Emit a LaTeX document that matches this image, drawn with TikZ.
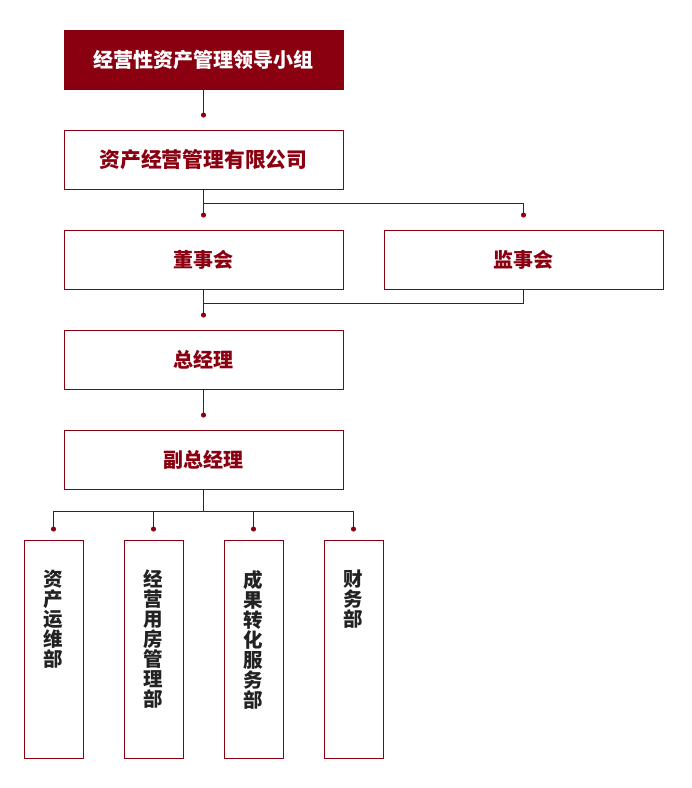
\documentclass[tikz,border=0pt]{standalone}
\usepackage{fontspec}
\setmainfont{Noto Sans CJK SC}
\usetikzlibrary{arrows.meta}
\definecolor{darkred}{HTML}{8A0010}
\definecolor{darkgray}{HTML}{222222}
\tikzset{
  box/.style={draw=darkred, line width=0.9pt, minimum width=279pt, minimum height=59pt,
    text=darkred, font=\bfseries\fontsize{20}{22}\selectfont},
  leadbox/.style={box, fill=darkred, text=white},
  dept/.style={draw=darkred, line width=0.9pt, minimum width=59pt, minimum height=218pt},
  deptlabel/.style={anchor=north, yshift=-27pt, align=center, text=darkgray,
    font=\bfseries\fontsize{19.5}{20}\selectfont},
  link/.style={draw=darkred, line width=0.9pt, -{Circle[length=5pt]}},
  bus/.style={draw=darkred, line width=0.9pt},
}
\begin{document}
\begin{tikzpicture}[node distance=100pt]
            \useasboundingbox (0pt,0pt) rectangle (692pt,-788pt);
            \node[leadbox] (lead) at (203.5pt,-59.5pt) {经营性资产管理领导小组};
            \node[box, below of=lead, font=\bfseries\fontsize{20.8}{22}\selectfont] (co) {资产经营管理有限公司};
            \node[box, below of=co] (board) {董事会};
            \node[box, right of=board, xshift=220pt] (super) {监事会};
            \node[box, below of=board] (gm) {总经理};
            \node[box, below of=gm] (vgm) {副总经理};

            \node[dept, below of=vgm, yshift=-89.5pt, xshift=-150pt,
              label={[deptlabel]north:资\\产\\运\\维\\部}] (ops) {};
            \node[dept, right of=ops,
              label={[deptlabel]north:经\\营\\用\\房\\管\\理\\部}] (house) {};
            \node[dept, right of=house,
              label={[deptlabel]north:成\\果\\转\\化\\服\\务\\部}] (transfer) {};
            \node[dept, right of=transfer,
              label={[deptlabel]north:财\\务\\部}] (finance) {};

            \draw[link] (lead) -- ([yshift=12pt]co.north);
            \draw[link] (co) -- ([yshift=12pt]board.north);
            \draw[link] (co.south) -- ++(0,-14pt) -| ([yshift=12pt]super.north);
            \draw[link] (board) -- ([yshift=12pt]gm.north);
            \draw[bus] (super.south) |- ([yshift=-14pt]board.south);
            \draw[link] (gm) -- ([yshift=12pt]vgm.north);

            \coordinate (split) at ([yshift=-22pt]vgm.south);
            \draw[bus] (vgm) -- (split);
            \draw[link] (split) -| ([yshift=8pt]ops.north);
            \draw[link] (split) -| ([yshift=8pt]house.north);
            \draw[link] (split) -| ([yshift=8pt]transfer.north);
            \draw[link] (split) -| ([yshift=8pt]finance.north);
        \end{tikzpicture}
\end{document}
